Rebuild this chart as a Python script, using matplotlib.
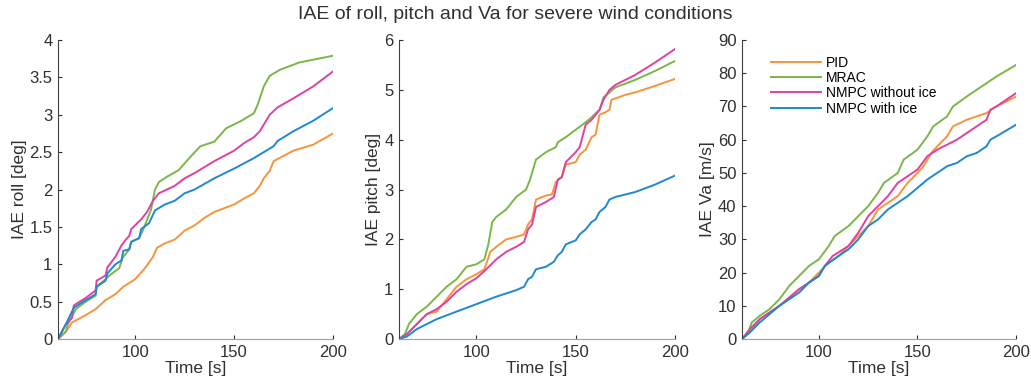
import matplotlib.pyplot as plt

# ---- roll [deg] ----
roll_pid_t = [61, 65, 68, 75, 80, 85, 90, 94, 100, 105, 109, 111, 115, 120, 125, 130, 135, 140, 150, 155, 160, 163, 165, 168, 170, 175, 180, 190, 200]
roll_pid = [0, 0.1, 0.22, 0.32, 0.4, 0.52, 0.6, 0.7, 0.8, 0.95, 1.1, 1.22, 1.28, 1.33, 1.45, 1.52, 1.62, 1.7, 1.8, 1.88, 1.95, 2.05, 2.15, 2.25, 2.38, 2.45, 2.52, 2.6, 2.75]
roll_mrac_t = [61, 65, 66, 70, 75, 80, 80.5, 85, 87, 92, 93.5, 94, 97, 98, 102, 104, 108, 110, 112, 116, 122, 128, 133, 140, 146, 153, 160, 162, 165, 168, 173, 183, 200]
roll_mrac = [0, 0.1, 0.2, 0.4, 0.5, 0.58, 0.7, 0.8, 0.85, 0.95, 1.08, 1.1, 1.2, 1.3, 1.35, 1.46, 1.73, 2.0, 2.1, 2.17, 2.26, 2.44, 2.58, 2.64, 2.82, 2.91, 3.02, 3.14, 3.38, 3.52, 3.6, 3.7, 3.79]
roll_nmpc_t = [61, 65, 68, 69, 75, 80, 80.5, 85, 86, 90, 93, 95, 97, 98, 103, 106, 109, 112, 120, 125, 130, 140, 150, 155, 160, 163, 168, 172, 180, 190, 200]
roll_nmpc = [0, 0.2, 0.28, 0.45, 0.55, 0.65, 0.78, 0.85, 0.96, 1.1, 1.25, 1.32, 1.38, 1.47, 1.6, 1.7, 1.85, 1.95, 2.05, 2.15, 2.22, 2.38, 2.52, 2.62, 2.7, 2.78, 3.0, 3.1, 3.22, 3.38, 3.58]
roll_ice_t = [61, 65, 69, 75, 80, 80.5, 85, 86, 90, 93, 94, 97, 98, 102, 103, 107, 110, 115, 120, 125, 130, 140, 150, 160, 170, 172, 180, 190, 200]
roll_ice = [0, 0.2, 0.42, 0.52, 0.6, 0.7, 0.78, 0.88, 1.0, 1.05, 1.18, 1.2, 1.3, 1.35, 1.47, 1.55, 1.72, 1.8, 1.85, 1.95, 2.0, 2.15, 2.28, 2.42, 2.58, 2.65, 2.78, 2.92, 3.09]

# ---- pitch [deg] ----
pitch_pid_t = [61, 65, 70, 75, 80, 85, 90, 95, 100, 104, 107, 110, 115, 120, 124, 126, 128, 130, 135, 138, 140, 143, 145, 150, 152, 155, 158, 160, 162, 165, 167, 168, 175, 180, 190, 200]
pitch_pid = [0, 0.1, 0.3, 0.5, 0.55, 0.8, 1.05, 1.2, 1.3, 1.4, 1.75, 1.85, 2.0, 2.05, 2.1, 2.3, 2.4, 2.8, 2.88, 2.9, 3.15, 3.25, 3.5, 3.55, 3.7, 3.8, 4.05, 4.1, 4.5, 4.55, 4.6, 4.8, 4.9, 4.95, 5.08, 5.22]
pitch_mrac_t = [61, 64, 66, 70, 75, 80, 85, 90, 95, 100, 104, 106, 108, 110, 115, 120, 125, 127, 130, 135, 140, 141, 145, 150, 155, 158, 162, 164, 167, 170, 180, 190, 200]
pitch_mrac = [0, 0.1, 0.3, 0.5, 0.65, 0.85, 1.05, 1.2, 1.45, 1.5, 1.6, 1.9, 2.35, 2.45, 2.6, 2.85, 3.0, 3.2, 3.6, 3.75, 3.85, 3.95, 4.05, 4.2, 4.35, 4.45, 4.6, 4.85, 4.95, 5.05, 5.2, 5.38, 5.58]
pitch_nmpc_t = [61, 65, 70, 75, 80, 85, 90, 95, 100, 105, 110, 115, 120, 124, 126, 128, 130, 135, 139, 141, 143, 145, 150, 152, 155, 158, 162, 164, 167, 170, 180, 190, 200]
pitch_nmpc = [0, 0.1, 0.3, 0.5, 0.6, 0.75, 0.95, 1.1, 1.22, 1.4, 1.6, 1.75, 1.85, 1.95, 2.2, 2.3, 2.65, 2.75, 2.85, 3.2, 3.25, 3.55, 3.75, 3.85, 4.3, 4.4, 4.6, 4.8, 5.0, 5.1, 5.3, 5.55, 5.82]
pitch_ice_t = [61, 65, 70, 80, 90, 100, 110, 120, 124, 126, 128, 130, 135, 139, 141, 143, 145, 150, 152, 155, 158, 160, 162, 165, 167, 170, 180, 190, 200]
pitch_ice = [0, 0.05, 0.2, 0.4, 0.55, 0.7, 0.85, 0.98, 1.05, 1.2, 1.25, 1.4, 1.45, 1.55, 1.68, 1.75, 1.9, 1.98, 2.1, 2.2, 2.35, 2.4, 2.55, 2.65, 2.8, 2.85, 2.95, 3.1, 3.28]

# ---- Va [m/s] ----
va_pid_t = [61, 65, 70, 80, 90, 95, 100, 105, 110, 115, 120, 125, 130, 135, 140, 145, 150, 153, 157, 160, 165, 168, 175, 180, 185, 190, 200]
va_pid = [0, 2, 6, 10, 15, 17, 20, 23, 25, 28, 31, 34, 39, 41, 43, 47, 50, 52, 56, 58, 61, 64, 66, 67, 68, 70, 73]
va_mrac_t = [61, 64, 66, 70, 75, 80, 85, 90, 95, 100, 105, 108, 115, 120, 125, 130, 133, 140, 143, 150, 155, 158, 165, 168, 175, 180, 190, 200]
va_mrac = [0, 2, 5, 7, 9, 12, 16, 19, 22, 24, 28, 31, 34, 37, 40, 44, 47, 50, 54, 57, 61, 64, 67, 70, 73, 75, 79, 82.5]
va_nmpc_t = [61, 65, 70, 80, 90, 95, 100, 103, 107, 115, 120, 125, 130, 135, 140, 145, 150, 155, 160, 165, 170, 175, 180, 185, 187, 190, 200]
va_nmpc = [0, 3, 6, 10, 15, 17, 19, 22, 25, 28, 32, 37, 40, 43, 47, 49, 51, 55, 57, 58.5, 60, 62, 64, 66, 69, 70, 74]
va_ice_t = [61, 65, 70, 80, 90, 95, 100, 103, 110, 115, 120, 125, 130, 135, 140, 145, 150, 155, 160, 165, 170, 175, 180, 185, 187, 190, 200]
va_ice = [0, 2, 5, 10, 14, 17, 19, 22, 25, 27, 30, 34, 36, 39, 41, 43, 45.5, 48, 50, 52, 53, 55, 56, 58, 60, 61, 64.5]

labels = ['PID', 'MRAC', 'NMPC without ice', 'NMPC with ice']
colors = ['#F7943C', '#7AB648', '#E040A0', '#1E88D0']

panels = [
    ([(roll_pid_t, roll_pid), (roll_mrac_t, roll_mrac), (roll_nmpc_t, roll_nmpc), (roll_ice_t, roll_ice)],
     'IAE roll [deg]', 4, [0, 0.5, 1, 1.5, 2, 2.5, 3, 3.5, 4], ['0', '0.5', '1', '1.5', '2', '2.5', '3', '3.5', '4']),
    ([(pitch_pid_t, pitch_pid), (pitch_mrac_t, pitch_mrac), (pitch_nmpc_t, pitch_nmpc), (pitch_ice_t, pitch_ice)],
     'IAE pitch [deg]', 6, [0, 1, 2, 3, 4, 5, 6], None),
    ([(va_pid_t, va_pid), (va_mrac_t, va_mrac), (va_nmpc_t, va_nmpc), (va_ice_t, va_ice)],
     'IAE Va [m/s]', 90, list(range(0, 91, 10)), None),
]

plt.rcParams['font.family'] = ['Liberation Sans', 'DejaVu Sans']
fig = plt.figure(figsize=(10.31, 3.89), dpi=100)
lefts = [0.0563, 0.387, 0.7197]
widths = [0.2667, 0.2677, 0.2658]
gray = '#404040'

for i, (series, ylab, ymax, yticks, ylabels) in enumerate(panels):
    ax = fig.add_axes([lefts[i], 0.1285, widths[i], 0.7686])
    for (t, v), c, lab in zip(series, colors, labels):
        ax.plot(t, v, color=c, linewidth=1.4, label=lab)
    ax.set_xlim(61, 200)
    ax.set_ylim(0, ymax)
    ax.set_xticks([100, 150, 200])
    ax.set_yticks(yticks)
    if ylabels:
        ax.set_yticklabels(ylabels)
    ax.spines['top'].set_visible(False)
    ax.spines['right'].set_visible(False)
    ax.spines['left'].set_color(gray)
    ax.spines['bottom'].set_color('#a0a0a0')
    ax.tick_params(direction='in', length=3, colors='#303030', labelsize=12, pad=4)
    ax.set_xlabel('Time [s]', fontsize=12.5, color='#303030', labelpad=1)
    ax.set_ylabel(ylab, fontsize=12.5, color='#303030', labelpad=2)
    if i == 2:
        ax.legend(loc='upper left', bbox_to_anchor=(0.06, 0.99), frameon=False,
                  fontsize=10, handlelength=3.6, labelspacing=0.1, handletextpad=0.35)

fig.suptitle('IAE of roll, pitch and Va for severe wind conditions', fontsize=14, color='#303030', y=0.985)
fig.savefig('out.png', dpi=100)
